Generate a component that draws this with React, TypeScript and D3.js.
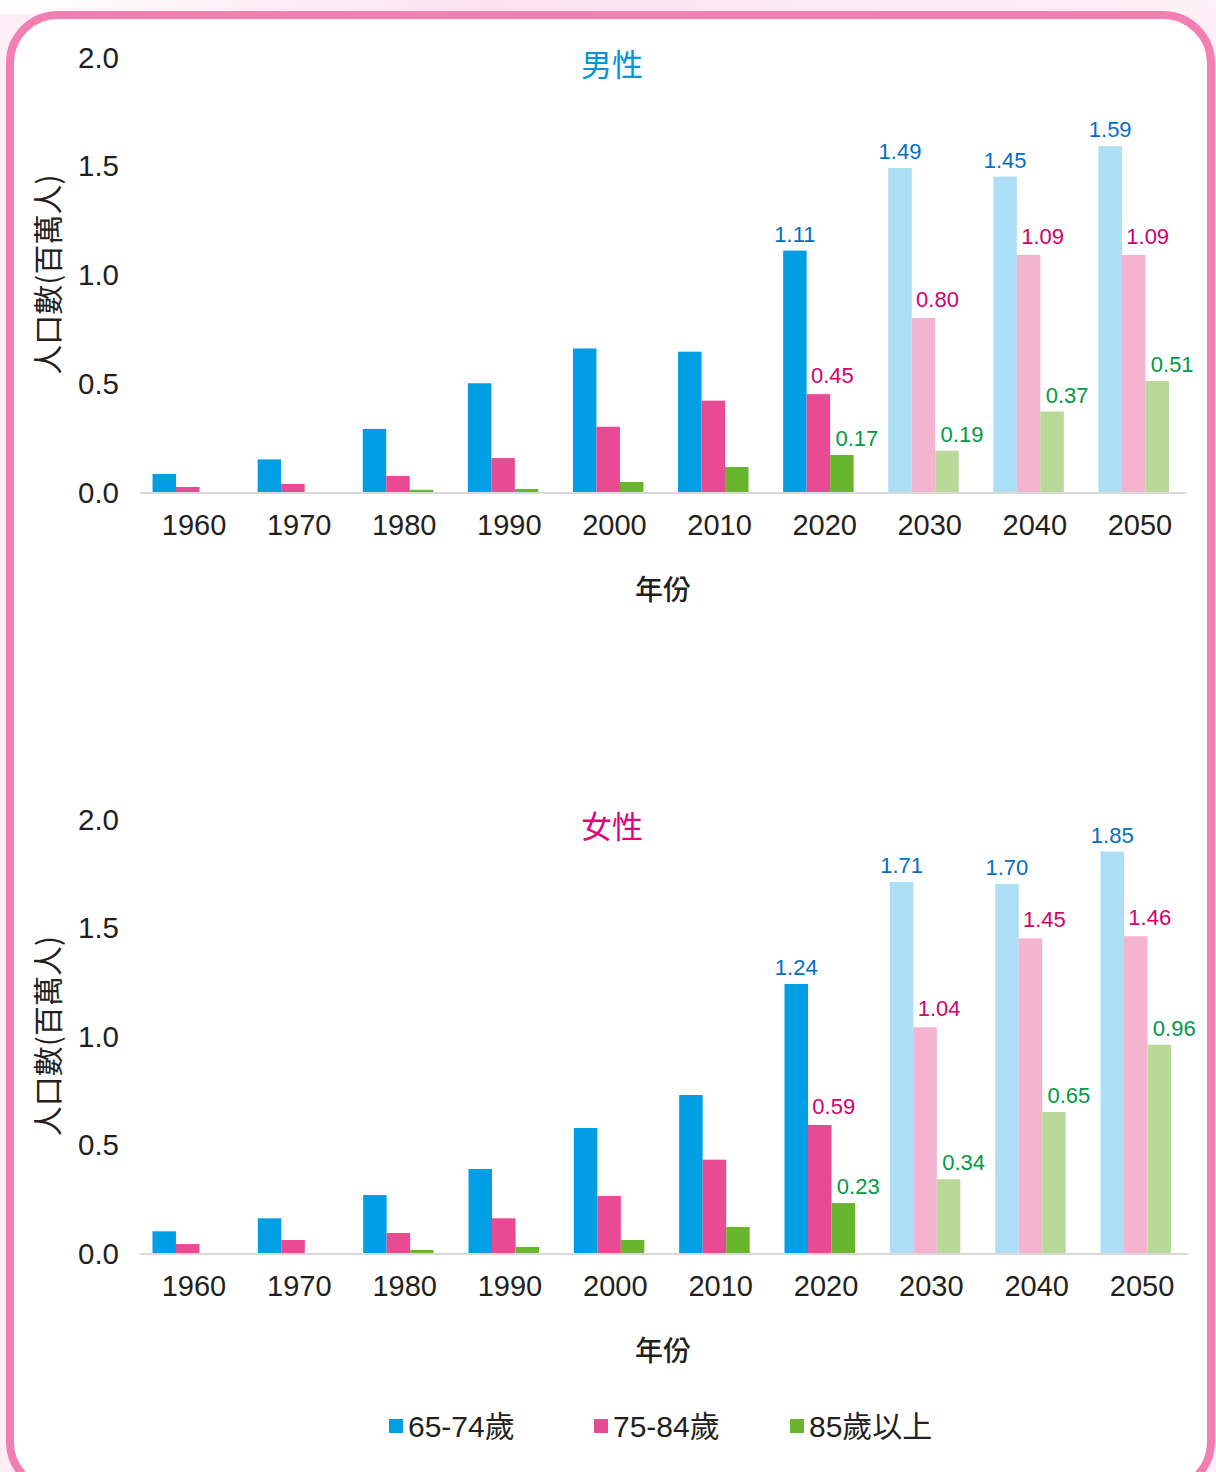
import React from "react";
import * as d3 from "d3";

const years = ["1960", "1970", "1980", "1990", "2000", "2010", "2020", "2030", "2040", "2050"];
const projectedFrom = 7; // index of 2030
const seriesNames = ["65-74歲", "75-84歲", "85歲以上"];
const yTicks = [0, 0.5, 1.0, 1.5, 2.0];

const male6574 = [0.083, 0.15, 0.29, 0.5, 0.66, 0.645, 1.11, 1.49, 1.45, 1.59];
const male7584 = [0.023, 0.037, 0.074, 0.156, 0.3, 0.42, 0.45, 0.8, 1.09, 1.09];
const male85 = [0, 0, 0.01, 0.014, 0.046, 0.115, 0.17, 0.19, 0.37, 0.51];

const female6574 = [0.1, 0.16, 0.267, 0.387, 0.576, 0.728, 1.24, 1.71, 1.7, 1.85];
const female7584 = [0.041, 0.06, 0.092, 0.16, 0.263, 0.43, 0.59, 1.04, 1.45, 1.46];
const female85 = [0, 0, 0.014, 0.028, 0.06, 0.12, 0.23, 0.34, 0.65, 0.96];

const solidColors = ["#009FE3", "#E84A93", "#6AB52E"];
const lightColors = ["#ACDEF6", "#F4B4D0", "#B9D999"];
const labelColors = ["#0070C0", "#D1006E", "#009A44"];
const labelOffsets = [0, 14, 15];
const labelGaps = [9, 11, 9];

const LATIN = "'Liberation Sans', Arial, 'Noto Sans CJK TC', sans-serif";
const CJK = "'Noto Sans CJK TC', 'Noto Sans CJK SC', sans-serif";

type PanelProps = {
  title: string;
  titleColor: string;
  series: number[][];
  baseY: number;
  topY: number;
  xStart: number;
  xEnd: number;
  axisEnd: number;
  titleY: number;
};

function Panel({ title, titleColor, series, baseY, topY, xStart, xEnd, axisEnd, titleY }: PanelProps) {
  const x = d3.scaleBand<string>().domain(years).range([xStart, xEnd]).padding(0);
  const y = d3.scaleLinear().domain([0, 2]).range([baseY, topY]);
  const barW = 23.5;
  const groupOffset = -41.5;
  return (
    <g>
      <text x={612} y={titleY} fill={titleColor} fontFamily={CJK} fontSize={31} textAnchor="middle" dominantBaseline="central">
        {title}
      </text>
      {yTicks.map((t) => (
        <text key={t} x={119} y={y(t)} fontFamily={LATIN} fontSize={29.5} textAnchor="end" dominantBaseline="central" fill="#231F20">
          {t.toFixed(1)}
        </text>
      ))}
      <text
        transform={`translate(46,${(baseY + topY) / 2}) rotate(-90)`}
        fontFamily={CJK}
        fontSize={30}
        textAnchor="middle"
        dominantBaseline="central"
        fill="#231F20"
      >
        人口數(百萬人)
      </text>
      {series.map((vals, si) =>
        vals.map((v, i) => {
          const c = (x(years[i]) as number) + x.bandwidth() / 2;
          const bx = c + groupOffset + si * barW;
          const proj = i >= projectedFrom;
          return (
            <rect
              key={`${si}-${i}`}
              x={bx}
              y={y(v)}
              width={barW}
              height={baseY - y(v)}
              fill={proj ? lightColors[si] : solidColors[si]}
            />
          );
        })
      )}
      <line x1={140} x2={axisEnd} y1={baseY + 1} y2={baseY + 1} stroke="#D9D9D9" strokeWidth={2} />
      {years.map((yr) => (
        <text
          key={yr}
          x={(x(yr) as number) + x.bandwidth() / 2}
          y={baseY + 43}
          fontFamily={LATIN}
          fontSize={29}
          textAnchor="middle"
          fill="#231F20"
        >
          {yr}
        </text>
      ))}
      {series.map((vals, si) =>
        vals.map((v, i) => {
          if (i < 6) return null;
          const c = (x(years[i]) as number) + x.bandwidth() / 2;
          const bx = c + groupOffset + si * barW + barW / 2 + labelOffsets[si];
          return (
            <text
              key={`l${si}-${i}`}
              x={bx}
              y={y(v) - labelGaps[si]}
              fontFamily={LATIN}
              fontSize={22}
              textAnchor="middle"
              fill={labelColors[si]}
            >
              {v.toFixed(2)}
            </text>
          );
        })
      )}
      <text x={663} y={baseY + 96} fontFamily={CJK} fontSize={28} fontWeight={500} textAnchor="middle" dominantBaseline="central" fill="#231F20">
        年份
      </text>
    </g>
  );
}

export default function App() {
  const legendX = [389, 594, 790];
  return (
    <svg width={1216} height={1472} style={{ position: "absolute", left: 0, top: 0 }}>
      <defs>
        <linearGradient id="bgTop" x1="0" y1="0" x2="1" y2="0">
          <stop offset="0" stopColor="#FFFFFF" />
          <stop offset="0.4" stopColor="#FBE3EE" />
          <stop offset="1" stopColor="#FDF2F7" />
        </linearGradient>
      </defs>
      <rect x={0} y={0} width={1216} height={1472} fill="#FDEFF5" />
      <rect x={0} y={0} width={1216} height={14} fill="url(#bgTop)" />
      <rect x={10} y={15} width={1201} height={1475} rx={48} ry={48} fill="#FFFFFF" stroke="#F27FB2" strokeWidth={8} />
      <Panel
        title="男性"
        titleColor="#0095D9"
        series={[male6574, male7584, male85]}
        baseY={492}
        topY={57}
        xStart={141.5}
        xEnd={1192.5}
        axisEnd={1186}
        titleY={62}
      />
      <Panel
        title="女性"
        titleColor="#E4007F"
        series={[female6574, female7584, female85]}
        baseY={1253}
        topY={819}
        xStart={141.3}
        xEnd={1194.7}
        axisEnd={1188}
        titleY={824}
      />
      {seriesNames.map((n, i) => (
        <g key={n}>
          <rect x={legendX[i]} y={1419} width={14} height={14} fill={solidColors[i]} />
          <text x={legendX[i] + 19} y={1426} fontFamily={LATIN} fontSize={30} dominantBaseline="central" fill="#231F20">
            {n}
          </text>
        </g>
      ))}
    </svg>
  );
}
